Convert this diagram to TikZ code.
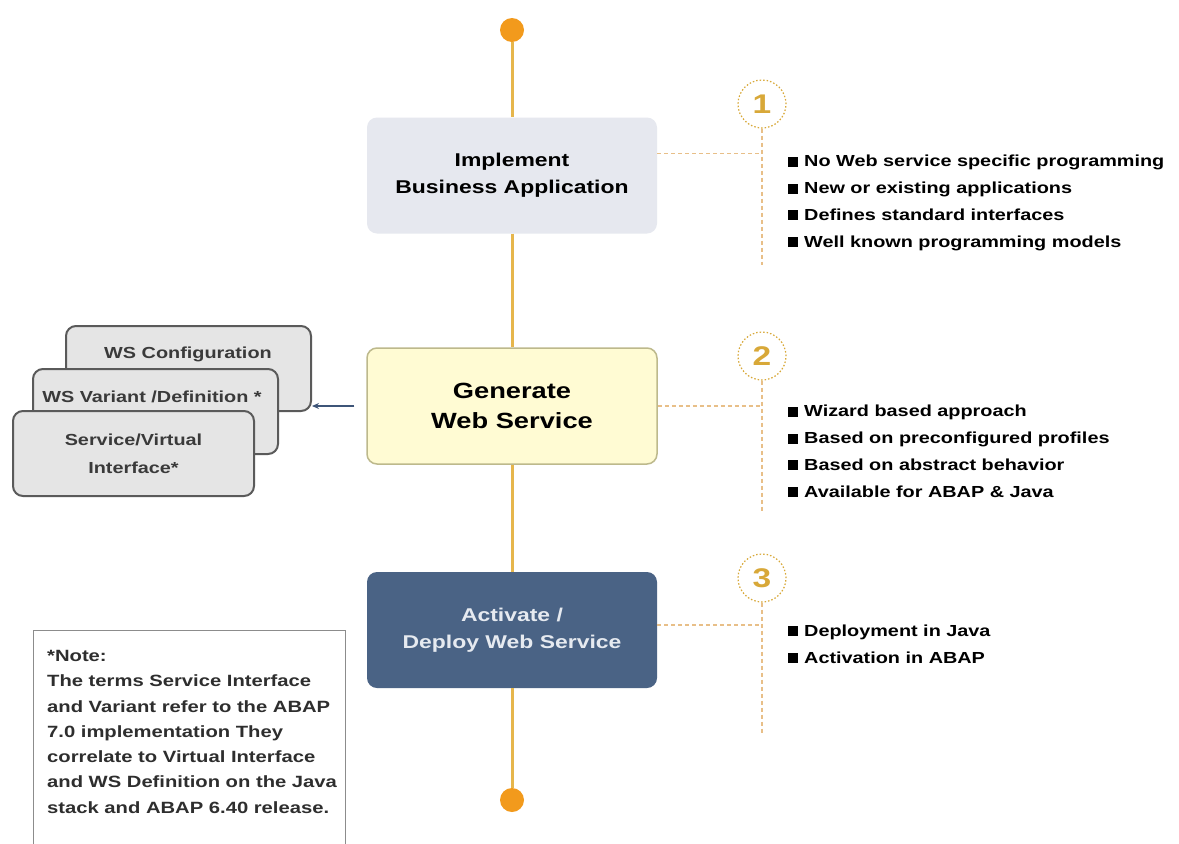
\documentclass[tikz,border=0pt]{standalone}
\usepackage{fontspec}
\setmainfont{Liberation Sans}[FakeStretch=1.24]
\usetikzlibrary{positioning,arrows.meta}

\definecolor{spinegold}{HTML}{E6B64C}
\definecolor{dotorange}{HTML}{F29A1C}
\definecolor{implfill}{HTML}{E6E8EF}
\definecolor{genfill}{HTML}{FFFBD3}
\definecolor{genline}{HTML}{BDB98C}
\definecolor{actfill}{HTML}{4A6385}
\definecolor{acttext}{HTML}{E6EAF0}
\definecolor{guideline}{HTML}{E8BF88}
\definecolor{numgold}{HTML}{D8A838}
\definecolor{stackfill}{HTML}{E5E5E5}
\definecolor{stackline}{HTML}{5A5A5A}
\definecolor{stacktext}{HTML}{3A3A3A}
\definecolor{pointerblue}{HTML}{3E5578}
\definecolor{noteline}{HTML}{8C8C8C}
\definecolor{notetext}{HTML}{2E2E2E}

\newcommand{\sqbullet}{\rule{10pt}{10pt}\hspace{6pt}}

\begin{document}
\begin{tikzpicture}[x=1pt, y=-1pt,
    stage/.style={rounded corners=10pt, minimum width=290pt, minimum height=116pt,
                  align=center, font=\bfseries\fontsize{18.5}{27}\selectfont},
    spine/.style={spinegold, line width=3pt},
    enddot/.style={circle, fill=dotorange, inner sep=0pt, minimum size=24pt},
    guide/.style={guideline, line width=1.2pt, dash pattern=on 4pt off 3pt},
    stepnum/.style={circle, draw=numgold, line width=1.2pt, dash pattern=on 1.5pt off 2pt,
                    minimum size=48pt, inner sep=0pt, text=numgold,
                    font=\bfseries\fontsize{27}{27}\selectfont},
    points/.style={anchor=base west, align=left, inner sep=0pt,
                   font=\bfseries\fontsize{16}{26.7}\selectfont},
    stackbox/.style={draw=stackline, fill=stackfill, line width=2pt, rounded corners=10pt,
                     minimum width=245pt, minimum height=85pt, anchor=north west,
                     align=center, text=stacktext, font=\bfseries\fontsize{16}{28}\selectfont},
    stacklabel/.style={anchor=base, inner sep=0pt, text=stacktext,
                       font=\bfseries\fontsize{16}{28}\selectfont},
    pointer/.style={-{Stealth[length=7pt, width=6pt]}, pointerblue, line width=1.2pt}
]
\clip (0,0) rectangle (1179,844);
\fill[white] (0,0) rectangle (1179,844);

% --- main stages ---
\node[enddot] (topdot) at (512,30) {};
\node[enddot] (botdot) at (512,800) {};
\node[stage, fill=implfill] (impl) at (512,175.5) {Implement\\Business Application};
\node[stage, fill=genfill, draw=genline, line width=1.5pt,
      font=\bfseries\fontsize{22}{30}\selectfont] (gen) at (512,406) {Generate\\Web Service};
\node[stage, fill=actfill, text=acttext] (act) at (512,630) {Activate /\\Deploy Web Service};

\draw[spine] (topdot) -- (impl);
\draw[spine] (impl) -- (gen);
\draw[spine] (gen) -- (act);
\draw[spine] (act) -- (botdot);

% --- numbered steps ---
\node[stepnum] (num1) at (762,104) {1};
\node[stepnum] (num2) at (762,356) {2};
\node[stepnum] (num3) at (762,578) {3};

\coordinate (h1) at ([yshift=22pt]impl.east);
\coordinate (h2) at (gen.east);
\coordinate (h3) at ([yshift=5pt]act.east);
\coordinate (v1) at (762,265);
\coordinate (v2) at (762,512);
\coordinate (v3) at (762,735);

\draw[guide] (h1) -- (h1 -| num1);
\draw[guide] (h2) -- (h2 -| num2);
\draw[guide] (h3) -- (h3 -| num3);
\draw[guide] (num1) -- (v1);
\draw[guide] (num2) -- (v2);
\draw[guide] (num3) -- (v3);

% base anchor sits on the last line
\node[points] (list1) at (788,247) {\sqbullet No Web service specific programming\\
    \sqbullet New or existing applications\\
    \sqbullet Defines standard interfaces\\
    \sqbullet Well known programming models};
\node[points] (list2) at (788,497) {\sqbullet Wizard based approach\\
    \sqbullet Based on preconfigured profiles\\
    \sqbullet Based on abstract behavior\\
    \sqbullet Available for ABAP \& Java};
\node[points] (list3) at (788,663) {\sqbullet Deployment in Java\\
    \sqbullet Activation in ABAP};

% --- generated objects (left) ---
\node[stackbox] (cfg) at (65,325) {};
\node[stacklabel] (cfglabel) at (188,358) {WS Configuration};
\node[stackbox] (var) at (32,368) {};
\node[stacklabel] (varlabel) at (152,402) {WS Variant /Definition *};
\node[stackbox, minimum width=241pt] (svi) at (12,410) {Service/Virtual\\Interface*};

\coordinate (stacktip) at (312,406);
\draw[pointer, shorten <=12pt] (gen.west) -- (stacktip);

% --- note ---
\node[draw=noteline, line width=1.3pt, minimum width=312pt, minimum height=260pt,
      anchor=north west] (notebox) at (33,630) {};
\node[anchor=north west, align=left, inner sep=0pt, text=notetext,
      font=\bfseries\fontsize{16.3}{25.3}\selectfont] (notetxt) at (47,650)
    {*Note:\\
     The terms Service Interface\\
     and Variant refer to the ABAP\\
     7.0 implementation They\\
     correlate to Virtual Interface\\
     and WS Definition on the Java\\
     stack and ABAP 6.40 release.};

\end{tikzpicture}
\end{document}
